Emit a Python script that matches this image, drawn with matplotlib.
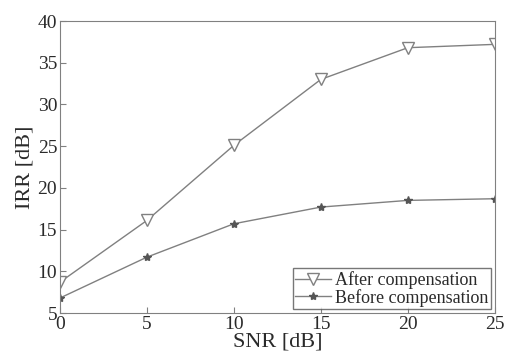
import matplotlib
matplotlib.use('Agg')
import matplotlib.pyplot as plt

plt.rcParams['font.family'] = 'Liberation Serif'

snr = [0, 5, 10, 15, 20, 25]
irr_after = [8.7, 16.1, 25.1, 33.0, 36.8, 37.2]
irr_before = [6.8, 11.7, 15.7, 17.7, 18.5, 18.7]

col = '#808080'
txt = '#2a2a2a'

fig = plt.figure(figsize=(5.08, 3.59), dpi=100)
ax = fig.add_axes([0.118, 0.128, 0.856, 0.8135])

ax.plot(snr, irr_after, color=col, lw=1.0, marker='v', markersize=9,
        markerfacecolor='white', markeredgecolor=col, label='After compensation')
ax.plot(snr, irr_before, color=col, lw=1.0, marker='*', markersize=6,
        markerfacecolor='#555555', markeredgecolor='#555555', label='Before compensation')

ax.set_xlim(0, 25)
ax.set_ylim(5, 40)
ax.set_xticks(snr)
ax.set_yticks(range(5, 41, 5))
ax.tick_params(direction='in', length=4, color=col, labelsize=14, labelcolor=txt, pad=2)
for s in ax.spines.values():
    s.set_color(col)
ax.set_xlabel('SNR [dB]', fontsize=16, color=txt, labelpad=0)
ax.set_ylabel('IRR [dB]', fontsize=16, color=txt, labelpad=2)

leg = ax.legend(loc='lower right', fontsize=13, frameon=True, fancybox=False,
                edgecolor='#555555', borderpad=0.15, handlelength=2.0,
                handletextpad=0.2, labelspacing=0.0, borderaxespad=0.2)
leg.get_frame().set_linewidth(1.0)
for t in leg.get_texts():
    t.set_color(txt)

fig.savefig('out.png', dpi=100)
